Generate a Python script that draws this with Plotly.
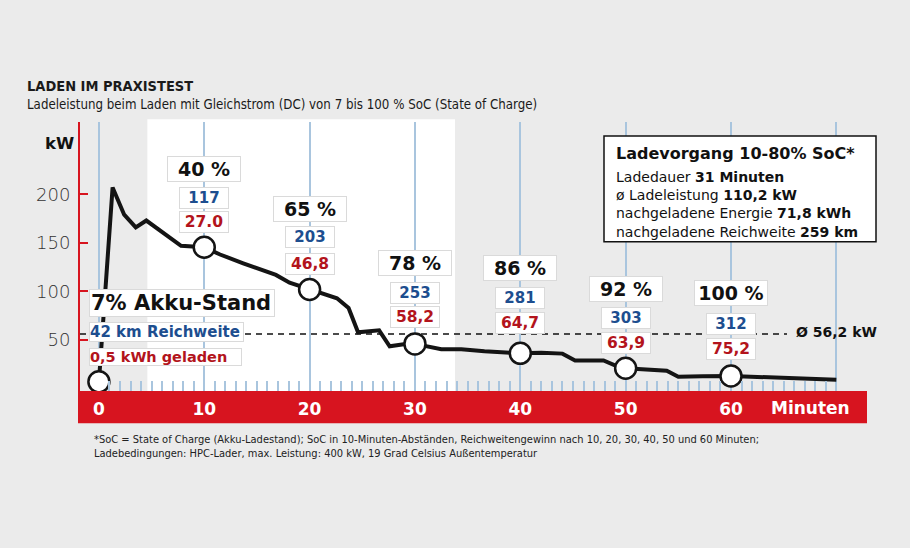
import plotly.graph_objects as go

# ---------------- data ----------------
minutes = [0, 1.3, 2.4, 3.5, 4.5, 7.8, 10, 11.5, 13.7, 16.8, 18.1, 20, 21.1, 22.6, 23.7,
           24.6, 26.6, 27.6, 29.1, 30, 32.5, 34.4, 36.6, 40, 42, 44, 45.2, 47.9, 49.2,
           50, 53.9, 55, 57.3, 60, 70]
power_kw = [7, 207, 179, 166, 173, 147, 145.5, 138, 129, 117, 109, 102, 98, 93, 83,
            58, 60, 43.5, 46, 46, 40.5, 40.5, 38.5, 36.3, 37, 36, 29, 29, 23,
            21, 18.5, 12.3, 12.7, 13, 9]
marker_minutes = [0, 10, 20, 30, 40, 50, 60]
soc_minutes = [10, 20, 30, 40, 50, 60]
soc_pct = [40, 65, 78, 86, 92, 100]
range_km = [117, 203, 253, 281, 303, 312]
energy_labels = ["27.0", "46,8", "58,2", "64,7", "63,9", "75,2"]
x_tick_vals = [0, 10, 20, 30, 40, 50, 60, 70]
x_tick_text = ["0", "10", "20", "30", "40", "50", "60", ""]
y_tick_vals = [50, 100, 150, 200]
avg_kw = 56.2
start_soc = 7
start_range_km = 42
start_energy = "0,5"
info_title = "Ladevorgang 10-80% SoC*"
info_lines = [("Ladedauer ", "31 Minuten"),
              ("ø Ladeleistung ", "110,2 kW"),
              ("nachgeladene Energie ", "71,8 kWh"),
              ("nachgeladene Reichweite ", "259 km")]

# ---------------- layout positions (kW units for label rows) ----------------
pct_y = [226.4, 185.1, 129.5, 124.2, 102.3, 98.6]
km_y = [196.2, 156.1, 98.9, 93.3, 72.7, 66.3]
kwh_y = [171.8, 128.6, 73.2, 68.0, 46.6, 40.6]

W, H = 910, 548
ML, MR, MT, MB = 80, 43, 122, 157
PW, PH = W - ML - MR, H - MT - MB


def px_x(px):
    return (px - ML) / PW


def px_y(py):
    return (H - MB - py) / PH


GEO = "DejaVu Sans"
NARROW = "Liberation Sans Narrow, DejaVu Sans Condensed, Roboto Condensed, Arial Narrow, Liberation Sans, sans-serif"
RED = "#d7141f"
BLUE_TXT = "#1d4e8f"
RED_TXT = "#b3141c"
GRID = "#a9c5de"
BG = "#ebebeb"
SHADOW = "#dadada"

fig = go.Figure()

fig.add_trace(go.Scatter(x=minutes, y=power_kw, mode="lines",
                         line=dict(color="#141414", width=4), hoverinfo="skip"))
mk_y = [power_kw[minutes.index(m)] for m in marker_minutes]
fig.add_trace(go.Scatter(x=marker_minutes, y=mk_y, mode="markers",
                         marker=dict(size=21, color="white",
                                     line=dict(color="#141414", width=2.5)),
                         hoverinfo="skip"))

shapes = [
    dict(type="rect", xref="x", yref="paper", x0=4.6, x1=33.8, y0=0, y1=1.01,
         fillcolor="white", line=dict(width=0), layer="below"),
    dict(type="rect", xref="paper", yref="paper", x0=px_x(78), x1=px_x(867),
         y0=px_y(423.3), y1=px_y(391), fillcolor=RED, line=dict(width=0), layer="below"),
    dict(type="line", xref="paper", yref="y", x0=0, x1=px_x(787), y0=avg_kw, y1=avg_kw,
         line=dict(color="#111", width=1.5, dash="6px,5px"), layer="between"),
    dict(type="rect", xref="paper", yref="paper", x0=px_x(604), x1=px_x(876),
         y0=px_y(241.7), y1=px_y(136), fillcolor="white",
         line=dict(color="#111", width=1.5), layer="above"),
]

ann = []
ann.append(dict(xref="paper", yref="paper", x=px_x(25), y=px_y(86), xanchor="left",
                yanchor="middle", showarrow=False, text="<b>LADEN IM PRAXISTEST</b>",
                font=dict(family=NARROW, size=14.5, color="#1a1a1a")))
ann.append(dict(xref="paper", yref="paper", x=px_x(25), y=px_y(105), xanchor="left",
                yanchor="middle", showarrow=False,
                text="Ladeleistung beim Laden mit Gleichstrom (DC) von 7 bis 100 % SoC (State of Charge)",
                font=dict(family=NARROW, size=13.2, color="#1a1a1a")))
ann.append(dict(xref="paper", yref="paper", x=px_x(59), y=px_y(143), xanchor="center",
                yanchor="middle", showarrow=False, text="<b>kW</b>",
                font=dict(family=GEO, size=16.5, color="#111")))
ann.append(dict(xref="paper", yref="paper", x=px_x(92), y=px_y(446.5), xanchor="left",
                yanchor="middle", showarrow=False, align="left",
                text="*SoC = State of Charge (Akku-Ladestand); SoC in 10-Minuten-Abständen, "
                     "Reichweitengewinn nach 10, 20, 30, 40, 50 und 60 Minuten;<br>"
                     "Ladebedingungen: HPC-Lader, max. Leistung: 400 kW, 19 Grad Celsius Außentemperatur",
                font=dict(family=NARROW, size=11, color="#222")))
ann.append(dict(xref="paper", yref="paper", x=px_x(810), y=px_y(407.5), xanchor="center",
                yanchor="middle", showarrow=False, text="<b>Minuten</b>",
                font=dict(family=GEO, size=17, color="white")))
ann.append(dict(xref="paper", yref="y", x=px_x(836), y=avg_kw + 2.3, xanchor="center",
                yanchor="middle", showarrow=False, text=f"<b>Ø {str(avg_kw).replace('.', ',')} kW</b>",
                font=dict(family=GEO, size=14, color="#111")))

box = dict(showarrow=False, bgcolor="white", bordercolor=SHADOW, borderwidth=1,
           xanchor="center", yanchor="middle")
for m, p, yk in zip(soc_minutes, soc_pct, pct_y):
    ann.append(dict(box, x=m, y=yk, text=f"<b>{p} %</b>", width=70, borderpad=1,
                    font=dict(family=GEO, size=19, color="#111")))
for m, r, yk in zip(soc_minutes, range_km, km_y):
    ann.append(dict(box, x=m, y=yk, text=f"<b>{r}</b>", width=46, borderpad=1,
                    font=dict(family=GEO, size=15, color=BLUE_TXT)))
for m, e, yk in zip(soc_minutes, energy_labels, kwh_y):
    ann.append(dict(box, x=m, y=yk, text=f"<b>{e}</b>", width=46, borderpad=1,
                    font=dict(family=GEO, size=15.5, color=RED_TXT)))

lbox = dict(box, xanchor="left", align="left", xref="paper")
ann.append(dict(lbox, x=px_x(89.3), y=88.4, text=f"<b>{start_soc}% Akku-Stand</b>", width=182,
                borderpad=1, font=dict(family=GEO, size=21, color="#111")))
ann.append(dict(lbox, x=px_x(89.3), y=57.8, text=f"<b>{start_range_km} km Reichweite</b>",
                width=153, borderpad=0, font=dict(family=GEO, size=15, color=BLUE_TXT)))
ann.append(dict(lbox, x=px_x(89.3), y=32.5, text=f"<b>{start_energy} kWh geladen</b>",
                width=151, borderpad=0, font=dict(family=GEO, size=14.5, color=RED_TXT)))

ann.append(dict(xref="paper", yref="paper", x=px_x(614), y=px_y(153), xanchor="left",
                yanchor="middle", showarrow=False, text=f"<b>{info_title}</b>",
                font=dict(family=GEO, size=16, color="#111")))
ann.append(dict(xref="paper", yref="paper", x=px_x(614), y=px_y(204.5), xanchor="left",
                yanchor="middle", showarrow=False, align="left",
                text="<br>".join(f"{a}<b>{b}</b>" for a, b in info_lines),
                font=dict(family=GEO, size=14, color="#111")))

fig.update_layout(
    width=W, height=H,
    margin=dict(l=ML, r=MR, t=MT, b=MB, pad=0),
    paper_bgcolor=BG, plot_bgcolor="rgba(0,0,0,0)",
    showlegend=False,
    shapes=shapes, annotations=ann,
    xaxis=dict(range=[-1.794, 72.91], tickmode="array", tickvals=x_tick_vals,
               ticktext=x_tick_text, showgrid=True, gridcolor=GRID, gridwidth=2,
               zeroline=False, showline=False, ticks="", ticklabelstandoff=6,
               tickfont=dict(family=GEO, size=17, color="white", weight="bold"),
               minor=dict(tickmode="array",
                          tickvals=[i for i in range(1, 70) if i % 10 != 0],
                          ticks="inside", ticklen=10, tickwidth=1.5, tickcolor=GRID,
                          showgrid=False),
               fixedrange=True),
    yaxis=dict(range=[-2.47, 274.4], tickmode="array", tickvals=y_tick_vals,
               showgrid=False, zeroline=False, showline=True, linecolor=RED, linewidth=2,
               ticks="inside", ticklen=8, tickwidth=2, tickcolor=RED,
               tickfont=dict(family=GEO, size=18, color="#333", weight=300),
               ticklabelstandoff=4, fixedrange=True),
)

fig.write_html("out.html")
